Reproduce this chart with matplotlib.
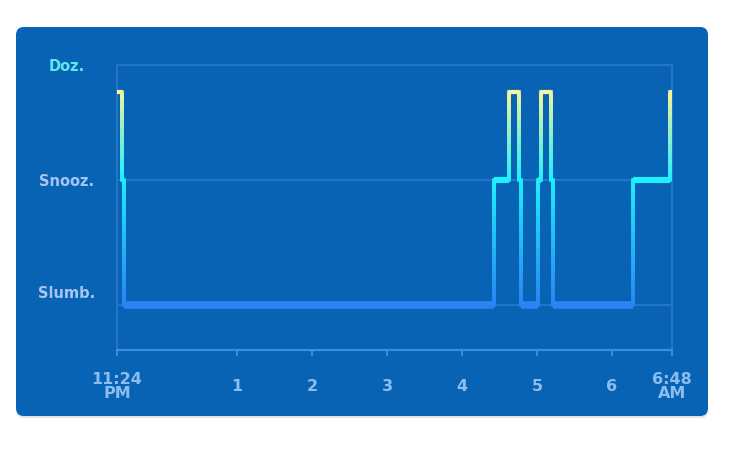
import matplotlib.pyplot as plt
import numpy as np
from matplotlib.collections import LineCollection
from matplotlib.colors import LinearSegmentedColormap, Normalize
from matplotlib.patches import FancyBboxPatch

# minutes after 11:24 PM where the stage changes, and the stage held from then on
change_min = [0, 4, 5.5, 301.6, 313.8, 321.6, 323, 337, 339.2, 347.2, 349, 413, 442.4, 444]
stage = [2.7, 2, 1, 2, 2.7, 2, 1, 2, 2.7, 2, 1, 2, 2.7, 2.7]

stage_ticks = [1.1, 2, 2.92]
stage_names = ['Slumb.', 'Snooz.', 'Doz.']
stage_grid = [1, 2]
hour_ticks = [0, 96, 156, 216, 276, 336, 396, 444]
hour_labels = ['11:24\nPM', '1', '2', '3', '4', '5', '6', '6:48\nAM']

card_col = '#0863b4'
grid_col = '#2674c6'
axis_col = '#3b8de0'
cmap = LinearSegmentedColormap.from_list(
    'sleep', [(0, '#2a84f4'), (0.588, '#1ef0ff'), (1, '#f2f69c')])
norm = Normalize(1, 2.7)

fig = plt.figure(figsize=(7.35, 4.58), dpi=100, facecolor='white')

#card behind the chart
shadow = FancyBboxPatch((0.16, 0.40), 6.92, 3.89, boxstyle='round,pad=0,rounding_size=0.08',
                        transform=fig.dpi_scale_trans, facecolor='#c9d3de', edgecolor='none',
                        alpha=0.6, zorder=-2)
card = FancyBboxPatch((0.16, 0.42), 6.92, 3.89, boxstyle='round,pad=0,rounding_size=0.08',
                      transform=fig.dpi_scale_trans, facecolor=card_col, edgecolor='none', zorder=-1)
fig.patches.extend([shadow, card])

ax = fig.add_axes([117 / 735, 1 - 350 / 458, 555 / 735, 285 / 458])
ax.set_facecolor('none')
ax.set_xlim(0, 444)
ax.set_ylim(0.64, 2.92)

for y in stage_grid:
    ax.axhline(y, color=grid_col, lw=1.5, zorder=1)

#build step segments, splitting the vertical ones so the colour runs with height
v_segs, v_cols, h_segs, h_cols, h_lw = [], [], [], [], []
for i in range(len(change_min) - 1):
    x0, x1 = change_min[i], change_min[i + 1]
    y0 = stage[i]
    h_segs.append([(x0, y0), (x1, y0)])
    h_cols.append(cmap(norm(y0)))
    h_lw.append({1: 5.5, 2: 4.4}.get(y0, 3.0))
    y1 = stage[i + 1]
    if y1 != y0:
        ys = np.linspace(y0, y1, 40)
        for a, b in zip(ys[:-1], ys[1:]):
            v_segs.append([(x1, a), (x1, b)])
            v_cols.append(cmap(norm((a + b) / 2)))

ax.add_collection(LineCollection(v_segs, colors=v_cols, linewidths=2.6, capstyle='projecting', zorder=3))
ax.add_collection(LineCollection(h_segs, colors=h_cols, linewidths=h_lw, capstyle='butt', zorder=4))

for side in ['top', 'left', 'right']:
    ax.spines[side].set_color(grid_col)
    ax.spines[side].set_linewidth(1.5)
ax.spines['bottom'].set_color(axis_col)
ax.spines['bottom'].set_linewidth(1.6)

ax.set_xticks(hour_ticks)
ax.set_xticklabels(hour_labels, fontsize=11.5, fontweight='bold', color='#8cbdee',
                   linespacing=0.9, va='center')
ax.tick_params(axis='x', length=4.3, width=1.5, color=axis_col, pad=22)

ax.set_yticks(stage_ticks)
ax.set_yticklabels(stage_names, fontsize=10.5, fontweight='bold', ha='center')
ax.tick_params(axis='y', length=0, pad=36)
for lab, c in zip(ax.get_yticklabels(), ['#a8c4f2', '#a8c4f2', '#5ee8ec']):
    lab.set_color(c)

fig.savefig('out.png', dpi=100)
